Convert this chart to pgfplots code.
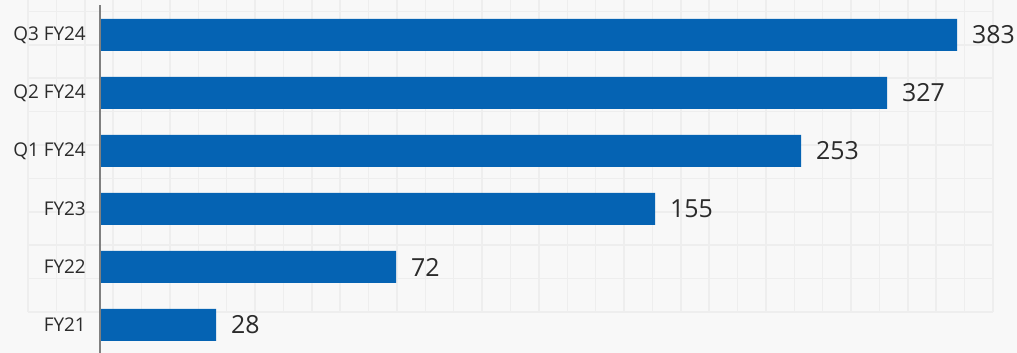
\documentclass[border=0pt]{standalone}
\usepackage{pgfplots}
\pgfplotsset{compat=1.18}
\usepackage{pgfplotstable}
\usepackage{fontspec}
\setmainfont{Open Sans}
\definecolor{bg}{HTML}{F8F8F8}
\definecolor{gridc}{HTML}{EEEEEE}
\definecolor{barblue}{HTML}{0563B3}
\definecolor{axgray}{HTML}{808080}
\definecolor{txt}{HTML}{2B2B2B}
% y: category position, len: drawn bar length (as in the picture), val: labelled value
\pgfplotstableread{
y len val
0 115 28
1 295 72
2 554 155
3 700 253
4 786 327
5 856 383
}\data
\begin{document}
\begin{tikzpicture}
\useasboundingbox (0bp,0bp) rectangle (1017bp,353bp);
\fill[bg] (0bp,0bp) rectangle (1017bp,353bp);
\foreach \i in {0,...,34} \draw[gridc, line width=1.5bp] ({28bp+28.382bp*\i},41bp) -- ({28bp+28.382bp*\i},353bp);
\foreach \j in {0,...,9} \draw[gridc, line width=1.5bp] (28bp,{353bp-11.4bp-33.4bp*\j}) -- (993bp,{353bp-11.4bp-33.4bp*\j});
\begin{axis}[
  at={(101bp,0bp)}, anchor=south west,
  x=1bp, y=58bp, xmin=0, xmax=916, ymin=-0.4828, ymax=5.6034,
  xbar, bar width=32bp,
  axis line style={draw=none}, xtick=\empty, ytick={0,...,5},
  yticklabels={FY21,FY22,FY23,Q1 FY24,Q2 FY24,Q3 FY24},
  major tick length=0pt,
  /pgf/number format/assume math mode=true,
  yticklabel style={font=\fontsize{19}{22}\selectfont, text=txt, inner sep=0pt, xshift=-15bp},
  clip=false,
  nodes near coords, point meta=explicit,
  nodes near coords style={font=\fontsize{25}{28}\selectfont, text=txt, anchor=west, inner sep=0pt, xshift=15bp},
]
\draw[axgray, line width=2bp] (axis cs:-1,-0.4828) -- (axis cs:-1,5.517);
\addplot[fill=barblue, draw=none] table[x=len, y=y, meta=val]{\data};
\end{axis}
\end{tikzpicture}
\end{document}
